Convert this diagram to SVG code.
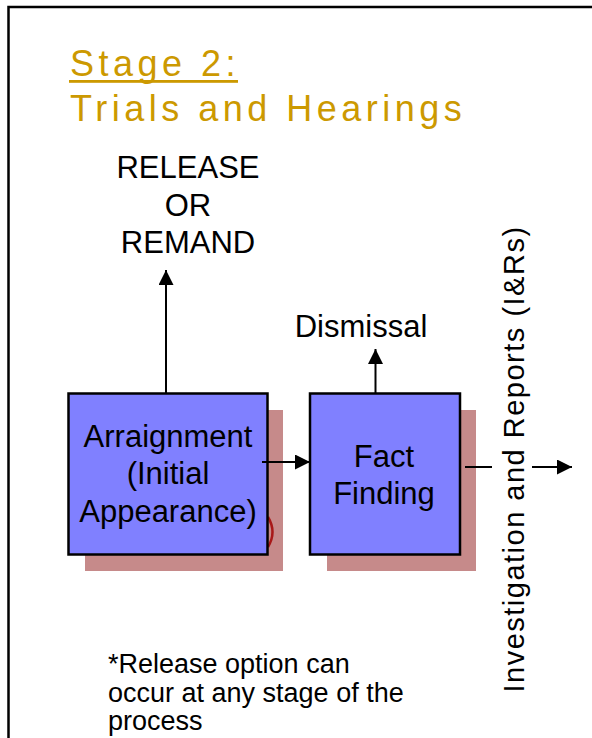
<svg xmlns="http://www.w3.org/2000/svg" width="592" height="738" viewBox="0 0 592 738">
<defs>
<style>
.title{font-family:"Liberation Sans",Arial,sans-serif;font-size:36px;fill:#CC9900;letter-spacing:4.5px}
.lbl{font-family:"Liberation Sans",Arial,sans-serif;font-size:31px;fill:#000;text-anchor:middle}
.note{font-family:"Liberation Sans",Arial,sans-serif;font-size:27px;fill:#000}
.box{fill:#8080FF;stroke:#000;stroke-width:2.5}
.shadow{fill:#C68A8A}
.conn{stroke:#000;stroke-width:2;fill:none}
</style>
<marker id="ah" viewBox="0 0 10 10" refX="10" refY="5" markerWidth="15" markerHeight="15" markerUnits="userSpaceOnUse" orient="auto">
<path d="M0,0 L10,5 L0,10 Z" fill="#000"/>
</marker>
</defs>
<rect width="592" height="738" fill="#fff"/>
<rect x="8.5" y="7" width="620" height="780" fill="none" stroke="#000" stroke-width="2.5"/>
<g id="title">
<text class="title" x="70" y="76">Stage 2:</text>
<rect x="69" y="80" width="169" height="2.8" fill="#CC9900"/>
<text class="title" x="70" y="121">Trials and Hearings</text>
</g>
<g id="release">
<text class="lbl" x="188" y="178">RELEASE</text>
<text class="lbl" x="188" y="216">OR</text>
<text class="lbl" x="188" y="253">REMAND</text>
</g>
<g id="dismissal">
<text class="lbl" x="361" y="337">Dismissal</text>
</g>
<g id="arraignment">
<rect class="shadow" x="85" y="410" width="198" height="161"/>
<path d="M268,517 Q277,532 268,547" fill="none" stroke="#A81818" stroke-width="2.5"/>
<rect class="box" x="68.5" y="393.5" width="199" height="161"/>
<text class="lbl" x="168" y="447">Arraignment</text>
<text class="lbl" x="168" y="484">(Initial</text>
<text class="lbl" x="168" y="522">Appearance)</text>
</g>
<g id="factfinding">
<rect class="shadow" x="327" y="410" width="149" height="161"/>
<rect class="box" x="310" y="393.5" width="150" height="161"/>
<text class="lbl" x="384" y="467">Fact</text>
<text class="lbl" x="384" y="504">Finding</text>
</g>
<g id="ir">
<text font-family="'Liberation Sans',Arial,sans-serif" font-size="29" letter-spacing="1.5" text-anchor="middle" transform="translate(524,459) rotate(-90)">Investigation and Reports (I&amp;Rs)</text>
</g>
<g id="connectors">
<line class="conn" x1="166" y1="393" x2="166" y2="270" marker-end="url(#ah)"/>
<line class="conn" x1="375.5" y1="393" x2="375.5" y2="349" marker-end="url(#ah)"/>
<line class="conn" x1="262" y1="462" x2="310" y2="462" marker-end="url(#ah)"/>
<line class="conn" x1="465" y1="467" x2="492" y2="467"/>
<line class="conn" x1="532" y1="467" x2="572" y2="467" marker-end="url(#ah)"/>
</g>
<g id="footnote">
<text class="note" x="108" y="673">*Release option can</text>
<text class="note" x="108" y="702">occur at any stage of the</text>
<text class="note" x="108" y="730">process</text>
</g>
</svg>
